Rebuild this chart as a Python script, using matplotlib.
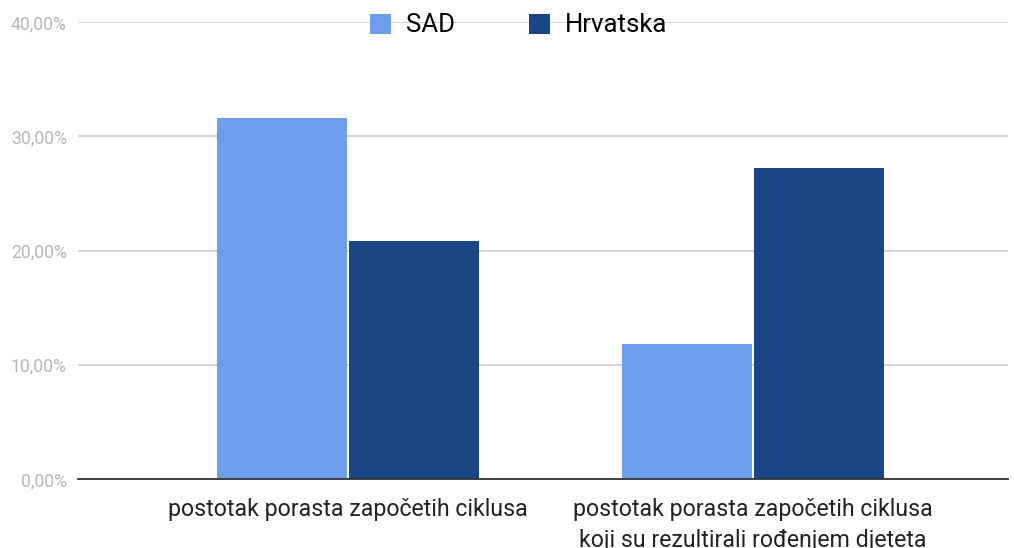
import matplotlib.pyplot as plt
from matplotlib.patches import Patch
import numpy as np

plt.rcParams['font.family'] = ['Roboto', 'DejaVu Sans']

categories = ['postotak porasta započetih ciklusa',
              'postotak porasta započetih ciklusa\nkoji su rezultirali rođenjem djeteta']
series = ['SAD', 'Hrvatska']
sad = [31.6, 11.8]
hrvatska = [20.85, 27.2]
colors = ['#6d9eeb', '#1c4587']
yticks = [0, 10, 20, 30, 40]

fig = plt.figure(figsize=(10.14, 5.48), dpi=100)
ax = fig.add_axes([78/1014, 1-479/548, 930/1014, 457/548])

x = np.arange(len(categories))
w = 0.321
ax.bar(x - w/2 - 0.0025, sad, w, color=colors[0], zorder=3)
ax.bar(x + w/2 + 0.0025, hrvatska, w, color=colors[1], zorder=3)

ax.set_xlim(-0.667, 1.63)
ax.set_ylim(0, 40)
ax.set_yticks(yticks)
ax.set_yticklabels([f'{v:.2f}%'.replace('.', ',') for v in yticks],
                   color='#b7b7b7', fontsize=12.7)
ax.set_xticks(x)
ax.set_xticklabels(categories, fontsize=16.7, color='#222222', linespacing=1.4)
ax.tick_params(axis='both', length=0)
ax.tick_params(axis='y', pad=8)
ax.tick_params(axis='x', pad=14)
ax.grid(axis='y', color='#cccccc', linewidth=1.2, zorder=0)
for s in ['top', 'right', 'left']:
    ax.spines[s].set_visible(False)
ax.spines['bottom'].set_color('#333333')
ax.spines['bottom'].set_linewidth(1.3)
ax.spines['bottom'].set_zorder(4)

handles = [Patch(facecolor=c) for c in colors]
leg = fig.legend(handles, series, loc='center', bbox_to_anchor=(518.5/1014, 1-25.5/548),
                 ncol=2, frameon=False, fontsize=18.5, handlelength=0.82, handleheight=0.82,
                 columnspacing=2.9, handletextpad=0.58)

fig.savefig('out.png', dpi=100, facecolor='white')
